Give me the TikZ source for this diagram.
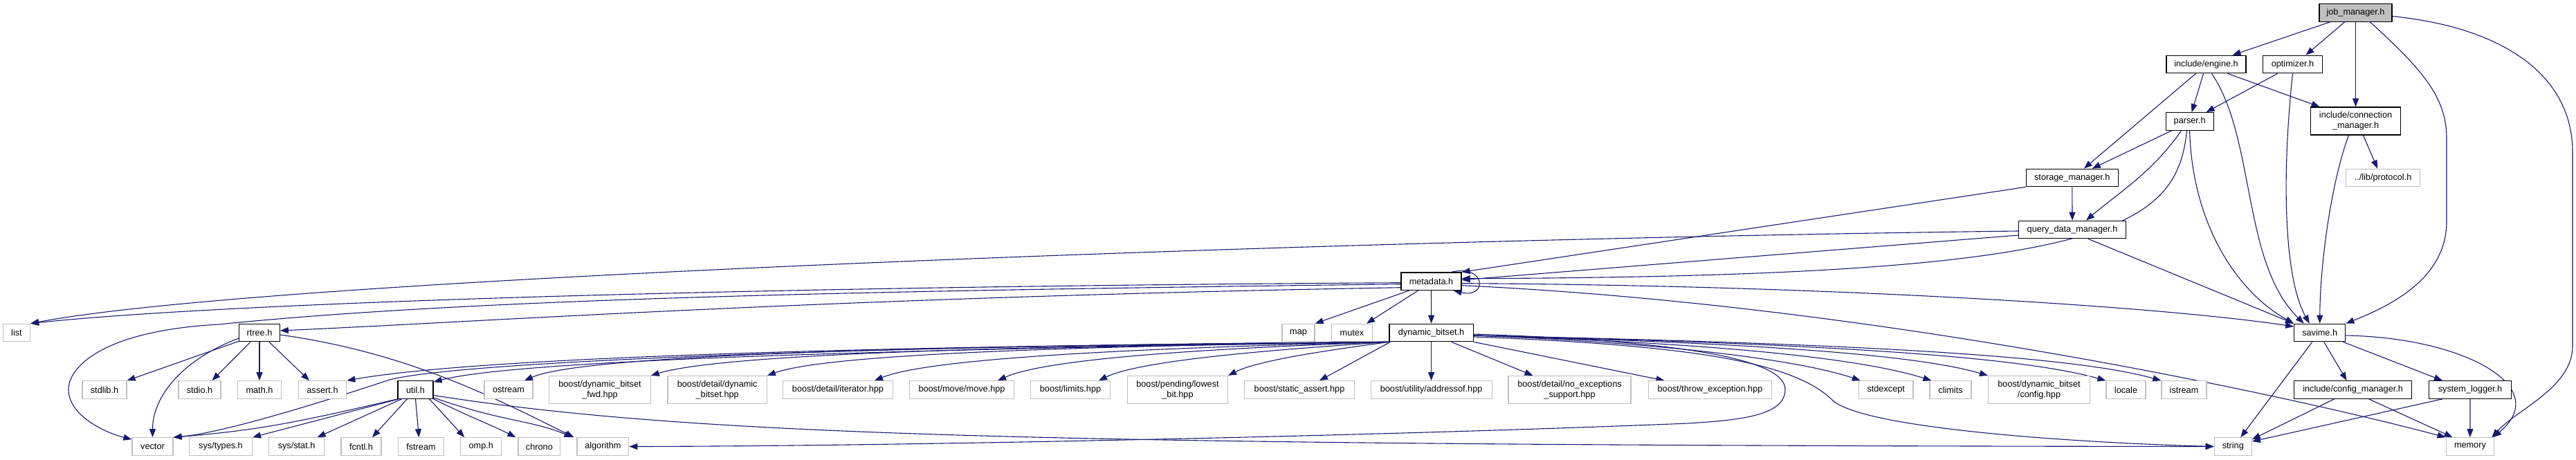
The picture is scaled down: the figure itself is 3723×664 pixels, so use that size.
\documentclass[tikz,border=0pt]{standalone}
\usepackage{fontspec}
\newfontfamily\doxyfont{Liberation Sans}
\usetikzlibrary{arrows.meta,backgrounds}
\definecolor{edgeblue}{HTML}{191970}
\definecolor{grey75}{HTML}{BFBFBF}
\begin{document}
\begin{tikzpicture}[x=1pt,y=-1pt,
  base/.style={line width=1.2pt, fill=white, inner sep=0pt, minimum height=25.5pt, align=center, font={\doxyfont\fontsize{12.7}{15}\selectfont}, text=black},
  dnode/.style={base, draw=black},
  gnode/.style={base, draw=grey75},
  rootnode/.style={base, draw=black, fill=grey75},
  tall/.style={minimum height=40pt},
  edge/.style={draw=edgeblue, line width=1.1pt, -{Triangle[length=12pt,width=9pt]}},
]
\useasboundingbox (0,0) rectangle (3723,664);
% row 0-5
\node[rootnode, minimum width=105pt] (jm) at (3404.5,18.5) {job\_manager.h};
\node[dnode, minimum width=115pt] (eng) at (3188.5,93) {include/engine.h};
\node[dnode, minimum width=86.5pt] (opt) at (3313.5,93) {optimizer.h};
\node[dnode, tall, minimum width=130.7pt] (con) at (3404.5,175) {include/connection\\\_manager.h};
\node[dnode, minimum width=69pt] (par) at (3164.6,175.5) {parser.h};
\node[dnode, minimum width=133pt] (sto) at (2994.8,257) {storage\_manager.h};
\node[gnode, minimum width=107.7pt] (pro) at (3444,257) {../lib/protocol.h};
\node[dnode, minimum width=155pt] (qdm) at (2995,332) {query\_data\_manager.h};
\node[dnode, minimum width=87pt] (meta) at (2068.5,406.7) {metadata.h};
% row 6
\node[gnode, minimum width=39pt] (nlist) at (24,481) {list};
\node[dnode, minimum width=58.5pt] (nrtree) at (375,481) {rtree.h};
\node[gnode, minimum width=47pt] (nmap) at (1876.5,481) {map};
\node[gnode, minimum width=59pt] (nmutex) at (1954,481) {mutex};
\node[dnode, minimum width=121.3pt] (dbs) at (2068.6,481) {dynamic\_bitset.h};
\node[dnode, minimum width=74.2pt] (sav) at (3352.7,481) {savime.h};
% row 7
\node[gnode, minimum width=64pt] (nstdlib) at (151,563.5) {stdlib.h};
\node[gnode, minimum width=61pt] (nstdio) at (288.5,563.5) {stdio.h};
\node[gnode, minimum width=63pt] (nmath) at (375,563.5) {math.h};
\node[gnode, minimum width=69.6pt] (nassert) at (466,563.5) {assert.h};
\node[dnode, minimum width=51pt] (nutil) at (600.5,563.5) {util.h};
\node[gnode, minimum width=70pt] (nostream) at (735,563.5) {ostream};
\node[gnode, tall, minimum width=146.3pt] (nfwd) at (867,563.5) {boost/dynamic\_bitset\\\_fwd.hpp};
\node[gnode, tall, minimum width=143.3pt] (nddb) at (1036.7,563.5) {boost/detail/dynamic\\\_bitset.hpp};
\node[gnode, minimum width=159pt] (niter) at (1211,563.5) {boost/detail/iterator.hpp};
\node[gnode, minimum width=151.4pt] (nmove) at (1390,563.5) {boost/move/move.hpp};
\node[gnode, minimum width=114.6pt] (nlimits) at (1547,563.5) {boost/limits.hpp};
\node[gnode, tall, minimum width=145pt] (nlowbit) at (1702,563.5) {boost/pending/lowest\\\_bit.hpp};
\node[gnode, minimum width=159pt] (nsassert) at (1878,563.5) {boost/static\_assert.hpp};
\node[gnode, minimum width=175pt] (naddr) at (2068.6,563.5) {boost/utility/addressof.hpp};
\node[gnode, tall, minimum width=177pt] (nnoexc) at (2268.5,563.5) {boost/detail/no\_exceptions\\\_support.hpp};
\node[gnode, minimum width=178.7pt] (nthrow) at (2471.5,563.5) {boost/throw\_exception.hpp};
\node[gnode, minimum width=78.6pt] (nstdexcept) at (2725.7,563.5) {stdexcept};
\node[gnode, minimum width=60pt] (nclimits) at (2819,563.5) {climits};
\node[gnode, tall, minimum width=146.7pt] (ncfg) at (2947,563.5) {boost/dynamic\_bitset\\/config.hpp};
\node[gnode, minimum width=57pt] (nlocale) at (3072.5,563.5) {locale};
\node[gnode, minimum width=65pt] (nistream) at (3156.5,563.5) {istream};
\node[dnode, minimum width=170pt] (ncfgm) at (3400.6,563.5) {include/config\_manager.h};
\node[dnode, minimum width=119pt] (nsyslog) at (3570,563.5) {system\_logger.h};
% row 8
\node[gnode, minimum width=59pt] (nvector) at (220.5,645.5) {vector};
\node[gnode, minimum width=91pt] (nsystypes) at (319,645.5) {sys/types.h};
\node[gnode, minimum width=80pt] (nsysstat) at (428.6,645.5) {sys/stat.h};
\node[gnode, minimum width=58pt] (nfcntl) at (522,645.5) {fcntl.h};
\node[gnode, minimum width=66.4pt] (nfstream) at (608.5,645.5) {fstream};
\node[gnode, minimum width=59pt] (nomp) at (695.3,645.5) {omp.h};
\node[gnode, minimum width=60.8pt] (nchrono) at (779.4,645.5) {chrono};
\node[gnode, minimum width=74.7pt] (nalgorithm) at (871.4,645.5) {algorithm};
\node[gnode, minimum width=54pt] (nstring) at (3227.3,645.5) {string};
\node[gnode, minimum width=69.5pt] (nmemory) at (3569.9,645.5) {memory};

\begin{pgfonlayer}{background}
% job_manager.h
\draw[edge] ([xshift=16pt]jm.south west) -- ([xshift=38pt]eng.north);
\draw[edge] ([xshift=-16pt]jm.south) -- ([xshift=19pt]opt.north);
\draw[edge] (jm.south) -- (con.north);
\draw[edge] ([xshift=21pt]jm.south) .. controls (3500,100) and (3536,140) .. (3536,200) -- (3536,320) .. controls (3536,400) and (3460,440) .. (sav.north east);
\draw[edge] ([yshift=-5pt]jm.east) .. controls (3620,40) and (3718,110) .. (3718,220) -- (3718,500) .. controls (3718,560) and (3640,590) .. ([xshift=-4pt]nmemory.north east);
% include/engine.h
\draw[edge] ([xshift=-4pt]eng.south) -- ([xshift=3pt]par.north);
\draw[edge] ([xshift=-15pt]eng.south) -- ([xshift=17pt]sto.north);
\draw[edge] ([xshift=8pt]eng.south) .. controls (3260,200) and (3240,380) .. ([xshift=-23pt]sav.north);
\draw[edge] ([xshift=31pt]eng.south) -- ([xshift=14pt]con.north west);
% optimizer.h
\draw[edge] ([xshift=-22pt]opt.south) -- ([xshift=24pt]par.north);
\draw[edge] (opt.south) .. controls (3298,250) and (3300,400) .. ([xshift=-15pt]sav.north);
% connection manager
\draw[edge] ([xshift=-10pt]con.south) .. controls (3370,260) and (3353,380) .. (sav.north);
\draw[edge] ([xshift=11pt]con.south) -- ([xshift=-8pt]pro.north);
% parser.h
\draw[edge] ([xshift=-26pt]par.south) -- ([xshift=29pt]sto.north);
\draw[edge] ([xshift=-12pt]par.south) .. controls (3110,250) and (3060,280) .. ([xshift=20pt]qdm.north);
\draw[edge] ([xshift=-4pt]par.south) .. controls (3145,330) and (3050,400) .. ([yshift=4pt]meta.east);
\draw[edge] (par.south) .. controls (3168,320) and (3230,420) .. (sav.north west);
% storage_manager.h
\draw[edge] (sto.south) -- (qdm.north);
\draw[edge] (sto.south west) -- (meta.north east);
% query_data_manager.h
\draw[edge] ([yshift=-8pt]qdm.west) -- ([yshift=2pt]meta.east);
\draw[edge] ([yshift=-2pt]qdm.west) .. controls (2000,345) and (400,400) .. (nlist.north east);
\draw[edge] ([xshift=23pt]qdm.south) -- (sav.north west);
% metadata.h
\draw[edge] ([yshift=-3pt]meta.east) .. controls (2600,412) and (3100,440) .. ([yshift=9pt]sav.west);
\draw[edge] ([yshift=-6pt]meta.east) .. controls (2700,440) and (3300,570) .. (nmemory.north west);
\draw[edge] ([yshift=-2pt]meta.west) .. controls (1000,415) and (300,440) .. (nlist.north east);
\draw[edge] ([yshift=-4pt]meta.west) .. controls (1300,420) and (700,430) .. (316,469) .. controls (150,478) and (99,530) .. (99,563) .. controls (99,600) and (150,625) .. ([yshift=-3pt]nvector.north west);
\draw[edge] ([yshift=-9pt]meta.west) .. controls (1200,430) and (700,465) .. ([yshift=3pt]nrtree.east);
\draw[edge] ([xshift=-32pt]meta.south) -- (nmap.north east);
\draw[edge] ([xshift=-19pt]meta.south) -- ([xshift=21pt]nmutex.north);
\draw[edge] (meta.south) -- (dbs.north);
\draw[edge] ([xshift=-15pt]meta.north east) .. controls +(50,-12) and +(50,12) .. ([xshift=-12pt]meta.south east);
% rtree.h
\draw[edge] ([yshift=1pt]nrtree.south west) -- (nstdlib.north east);
\draw[edge] ([xshift=-13pt]nrtree.south) -- ([xshift=18pt]nstdio.north);
\draw[edge] (nrtree.south) -- (nmath.north);
\draw[edge] ([xshift=14pt]nrtree.south) -- ([xshift=-19pt]nassert.north);
\draw[edge] ([yshift=-8pt]nrtree.west) .. controls +(-80,30) and +(0,-60) .. (nvector.north);
\draw[edge] ([yshift=-3pt]nrtree.east) .. controls +(180,25) and +(-120,-60) .. ([xshift=-4pt]nalgorithm.north west);
% dynamic_bitset.h left
\draw[edge] (dbs.south west) .. controls (1300,500) and (700,515) .. (nassert.north east);
\draw[edge] (dbs.south west) .. controls (1300,505) and (750,520) .. ([yshift=-2pt]nutil.north east);
\draw[edge] (dbs.south west) .. controls (1200,500) and (640,525) .. (560,550) .. controls (500,570) and (330,625) .. (nvector.north east);
\draw[edge] (dbs.south west) .. controls (1400,500) and (850,510) .. ([xshift=23pt]nostream.north);
\draw[edge] (dbs.south west) .. controls (1500,500) and (1050,510) .. (nfwd.north east);
\draw[edge] (dbs.south west) .. controls (1600,500) and (1200,510) .. (nddb.north east);
\draw[edge] (dbs.south west) .. controls (1700,502) and (1350,515) .. ([xshift=53pt]niter.north);
\draw[edge] (dbs.south west) .. controls (1800,502) and (1520,515) .. ([xshift=52pt]nmove.north);
\draw[edge] (dbs.south west) .. controls (1850,505) and (1650,520) .. ([xshift=41pt]nlimits.north);
\draw[edge] (dbs.south west) .. controls (1930,505) and (1820,520) .. (nlowbit.north east);
\draw[edge] ([xshift=2pt]dbs.south west) -- ([xshift=29pt]nsassert.north);
\draw[edge] (dbs.south) -- (naddr.north);
\draw[edge] ([xshift=29pt]dbs.south) -- ([xshift=36pt]nnoexc.north west);
\draw[edge] (dbs.south east) -- ([xshift=24pt]nthrow.north west);
% dynamic_bitset.h right
\draw[edge] ([yshift=-4pt]dbs.east) .. controls (2400,495) and (2600,520) .. ([xshift=3pt]nstdexcept.north west);
\draw[edge] ([yshift=-4pt]dbs.east) .. controls (2450,495) and (2680,515) .. ([xshift=3pt]nclimits.north west);
\draw[edge] ([yshift=-4pt]dbs.east) .. controls (2500,495) and (2760,510) .. (ncfg.north west);
\draw[edge] ([yshift=-4pt]dbs.east) .. controls (2550,495) and (2900,510) .. (nlocale.north west);
\draw[edge] ([yshift=-4pt]dbs.east) .. controls (2600,495) and (2980,510) .. (nistream.north west);
\draw[edge] ([yshift=-6pt]dbs.east) .. controls (2480,500) and (2600,530) .. (2650,580) .. controls (2700,620) and (3000,640) .. (nstring.west);
\draw[edge] ([yshift=-2pt]dbs.east) .. controls (2400,492) and (2580,515) .. (2580,563) .. controls (2580,600) and (2520,607) .. (2440,612) .. controls (2000,630) and (1300,645) .. (nalgorithm.east);
% util.h
\draw[edge] (nutil.south west) .. controls +(-150,35) and +(120,-10) .. (nvector.north east);
\draw[edge] ([xshift=2pt]nutil.south west) -- (nsystypes.north east);
\draw[edge] ([xshift=6pt]nutil.south west) -- ([xshift=30pt]nsysstat.north);
\draw[edge] ([xshift=14pt]nutil.south west) -- ([xshift=16pt]nfcntl.north);
\draw[edge] (nutil.south) -- ([xshift=-3pt]nfstream.north);
\draw[edge] ([xshift=-6pt]nutil.south east) -- ([xshift=6pt]nomp.north west);
\draw[edge] (nutil.south east) .. controls +(50,25) and +(-40,-20) .. ([xshift=-3pt]nchrono.north west);
\draw[edge] ([yshift=2pt]nutil.south east) .. controls +(100,35) and +(-60,-25) .. ([xshift=-6pt]nalgorithm.north west);
\draw[edge] ([yshift=-8pt]nutil.east) .. controls (1000,630) and (1500,644) .. (nstring.west);
% savime.h
\draw[edge] ([xshift=-11pt]sav.south) -- ([xshift=11pt]nstring.north);
\draw[edge] ([xshift=6pt]sav.south) -- ([xshift=-9pt]ncfgm.north);
\draw[edge] ([xshift=-4pt]sav.south east) -- ([xshift=20pt]nsyslog.north west);
\draw[edge] ([yshift=-4pt]sav.east) .. controls +(170,3) and +(88,-73) .. ([xshift=-2pt]nmemory.north east);
% config_manager, system_logger
\draw[edge] ([xshift=-27pt]ncfgm.south) -- ([yshift=-3pt]nstring.north east);
\draw[edge] ([xshift=23pt]ncfgm.south) -- ([xshift=10pt]nmemory.north west);
\draw[edge] ([xshift=20pt]nsyslog.south west) -- ([yshift=-6pt]nstring.north east);
\draw[edge] (nsyslog.south) -- (nmemory.north);
\end{pgfonlayer}
\end{tikzpicture}
\end{document}
